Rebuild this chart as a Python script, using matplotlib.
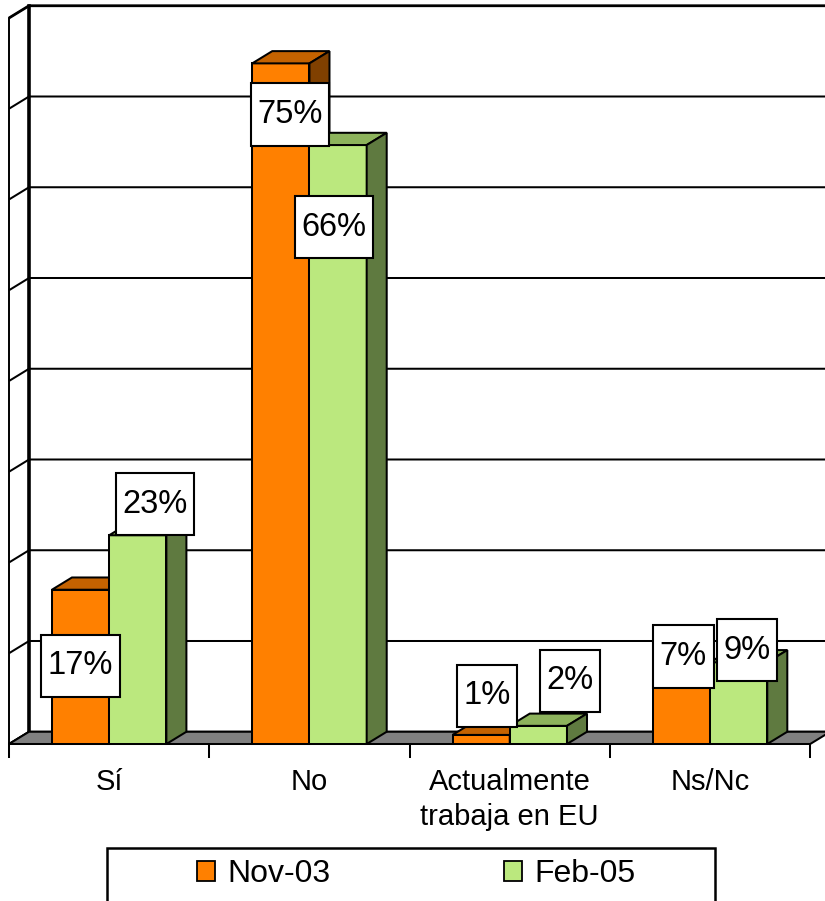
import matplotlib.pyplot as plt
from matplotlib.patches import Polygon, Rectangle, Patch
from matplotlib.path import Path

plt.rcParams['font.family'] = ['Liberation Sans', 'DejaVu Sans']

# data
categories = ['Sí', 'No', 'Actualmente\ntrabaja en EU', 'Ns/Nc']
series_names = ['Nov-03', 'Feb-05']
nov03 = [17, 75, 1, 7]
feb05 = [23, 66, 2, 9]
grid_values = [0, 10, 20, 30, 40, 50, 60, 70, 80]

# label box offsets from bar top (pixels), set by hand like the original
nov_label_offsets = [(0, -76), (9, -51), (6, 39), (2, 24)]
feb_label_offsets = [(17, 31), (-4, -82), (32, 45), (8, 12)]

# front, top, side shades
ORANGE = ('#FF8000', '#C46200', '#804000')
GREEN = ('#BBE87E', '#8DB35C', '#5F7A40')

W, H = 825, 901
fig = plt.figure(figsize=(W / 100, H / 100), dpi=100)
ax = fig.add_axes([9 / W, (H - 744) / H, 801.2 / W, 726 / H])
ax.set_xlim(0, len(categories))
ax.set_ylim(0, grid_values[-1])
ax.axis('off')

DX, DY = 0.1, 1.35          # depth of the 3d box
BW = 1 / 3.5                 # bar width (gap = 150%)
LW = 1.45
top = grid_values[-1]
right = len(categories)


def poly(pts, fc, lw=LW, z=1):
    ax.add_patch(Polygon(pts, closed=True, facecolor=fc, edgecolor='black',
                         lw=lw, clip_on=False, zorder=z, joinstyle='miter'))


# walls
poly([(0, 0), (0, top), (DX, top + DY), (DX, DY)], 'white', lw=1.2, z=0)
ax.add_patch(Rectangle((DX, DY), right, top, facecolor='white', edgecolor='none',
                       clip_on=False, zorder=0))
for g in grid_values:
    lw = 2.0 if g == top else LW
    ax.plot([0, DX, right + DX], [g, g + DY, g + DY], color='black', lw=lw,
            clip_on=False, zorder=0.5, solid_capstyle='butt')
ax.plot([DX, DX], [DY, top + DY], color='black', lw=2.6, clip_on=False, zorder=0.6)
ax.plot([0, 0], [0, top], color='black', lw=1.2, clip_on=False, zorder=0.6)

# floor
poly([(0, 0), (right, 0), (right + DX, DY), (DX, DY)], '#808080', z=0.7)
for x in range(len(categories) + 1):
    ax.plot([x, x], [0, -1.4], color='black', lw=LW, clip_on=False, zorder=0.7)


def draw_bar(x0, v, colors):
    front, topc, side = colors
    x1 = x0 + BW
    poly([(x0, 0), (x1, 0), (x1, v), (x0, v)], front, z=2)
    poly([(x0, v), (x1, v), (x1 + DX, v + DY), (x0 + DX, v + DY)], topc, z=2)
    poly([(x1, 0), (x1 + DX, DY), (x1 + DX, v + DY), (x1, v)], side, z=2)


def label_box(x0, y0, width, height, mutation_size):
    px, py = 0.2 * mutation_size, 0.48 * mutation_size
    x0, y0 = x0 - px, y0 - py
    x1, y1 = x0 + width + 2 * px, y0 + height + 2 * py
    return Path([(x0, y0), (x1, y0), (x1, y1), (x0, y1), (x0, y0)], closed=True)


def value_label(x, v, off):
    ax.annotate(f'{v}%', xy=(x, v), xytext=off, textcoords='offset pixels',
                ha='center', va='center', fontsize=23.5, zorder=10,
                bbox=dict(boxstyle=label_box, facecolor='white',
                          edgecolor='black', lw=1.5))


for i, cat in enumerate(categories):
    xn = i + 0.5 - BW
    xf = i + 0.5
    draw_bar(xn, nov03[i], ORANGE)
    draw_bar(xf, feb05[i], GREEN)
    value_label(xn + BW / 2, nov03[i], nov_label_offsets[i])
    value_label(xf + BW / 2, feb05[i], feb_label_offsets[i])
    ax.annotate(cat, xy=(i + 0.5, 0), xytext=(0, -24), textcoords='offset pixels',
                ha='center', va='top', fontsize=21, linespacing=1.3)

# legend
fig.add_artist(Rectangle((107 / W, 1 - 906 / H), (715 - 107) / W, (906 - 848) / H,
                         transform=fig.transFigure, fill=False, edgecolor='black', lw=1.8))
handles = [Patch(facecolor=ORANGE[0], edgecolor='black', lw=1.3),
           Patch(facecolor=GREEN[0], edgecolor='black', lw=1.3)]
fig.legend(handles, series_names, loc='center', bbox_to_anchor=(416.5 / W, 1 - 874.5 / H),
           ncol=2, frameon=False, fontsize=23, handlelength=0.56, handleheight=0.56,
           handletextpad=0.38, columnspacing=5.44, borderpad=0)

fig.savefig('out.png', dpi=100)
